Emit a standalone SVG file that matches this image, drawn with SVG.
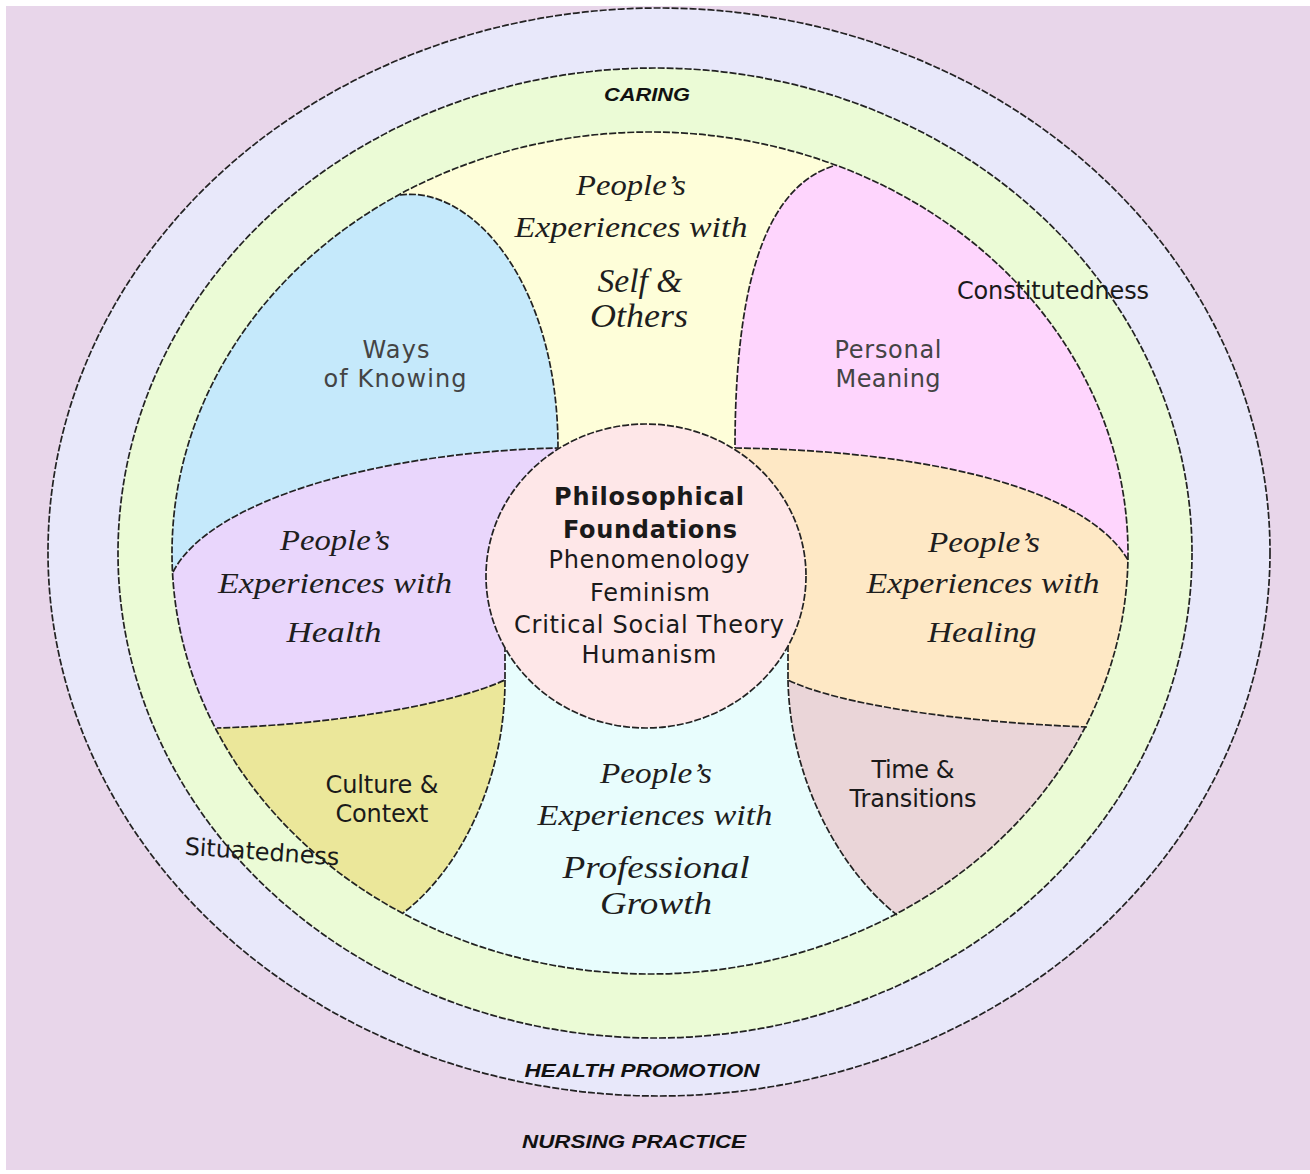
<svg xmlns="http://www.w3.org/2000/svg" width="1310" height="1174" viewBox="0 0 1310 1174">
<style>
.st{stroke:#222;stroke-width:1.7;stroke-dasharray:7 2}
.ln{fill:none;stroke:#222;stroke-width:1.7;stroke-dasharray:7 2}
.sc{font-family:"Liberation Serif","Times New Roman",serif;font-style:italic;fill:#1e1e1e;text-anchor:middle}
.sn{font-family:"DejaVu Sans",Verdana,sans-serif;font-size:24px;text-anchor:middle;fill:#1a1a1a}
.gr{fill:#444}
.ot{font-family:"Liberation Sans",Arial,sans-serif;font-weight:bold;font-style:italic;font-size:19px;text-anchor:middle;fill:#111}
</style>
<defs>
<clipPath id="inner"><ellipse cx="650" cy="553" rx="478" ry="421"/></clipPath>
</defs>
<rect x="0" y="0" width="1310" height="1174" fill="#ffffff"/>
<rect x="6" y="6" width="1304" height="1164" fill="#e8d6ea"/>

<g id="nursing-practice">
<ellipse cx="659" cy="552" rx="611" ry="544" fill="#e8e8fa" class="st"/>
<text class="ot" x="634" y="1148" textLength="224" lengthAdjust="spacingAndGlyphs">NURSING PRACTICE</text>
</g>
<g id="health-promotion">
<ellipse cx="655" cy="553" rx="537" ry="485" fill="#ebfbd6" class="st"/>
<text class="ot" x="642" y="1077" textLength="235" lengthAdjust="spacingAndGlyphs">HEALTH PROMOTION</text>
</g>
<g id="caring">
<text class="ot" x="647" y="101" textLength="86" lengthAdjust="spacingAndGlyphs">CARING</text>
</g>

<g clip-path="url(#inner)">
<g id="self-others">
<ellipse cx="650" cy="553" rx="478" ry="421" fill="#fefed9"/>
</g>
<g id="ways-of-knowing">
<path d="M400,100 L400,195 C470,185 558,280 558,448 L600,480 L558,448 C380,452 210,500 173,572 L100,572 L100,100 Z" fill="#c5e9fb"/>
</g>
<g id="personal-meaning">
<path d="M833,100 L833,166 C775,185 735,260 735,448 C900,450 1080,480 1128,560 L1200,560 L1200,100 Z" fill="#fed5fd"/>
</g>
<g id="health">
<path d="M100,572 L173,572 C210,500 380,452 558,448 L600,500 L505,600 L505,680 C450,705 330,725 217,728 L100,728 Z" fill="#e9d6fc"/>
</g>
<g id="healing">
<path d="M735,448 C900,450 1080,480 1128,560 L1200,560 L1200,727 L1087,727 C960,722 840,705 788,680 L788,600 L700,500 Z" fill="#fee8c5"/>
</g>
<g id="time-transitions">
<path d="M788,680 C840,705 960,722 1087,727 L1200,727 L1200,1000 L897,1000 L897,915 C840,870 790,780 788,680 Z" fill="#ead5d8"/>
</g>
<g id="culture-context">
<path d="M217,728 C330,725 450,705 505,680 C505,780 460,870 403,913 L403,1000 L100,1000 L100,728 Z" fill="#ebe79a"/>
</g>
<g id="professional-growth">
<path d="M505,600 L505,680 C505,780 460,870 403,913 L403,1000 L897,1000 L897,915 C840,870 790,780 788,680 L788,600 Z" fill="#e8fdfd"/>
</g>
</g>

<g id="connectors">
<path class="ln" d="M400,195 C470,185 558,280 558,448"/>
<path class="ln" d="M833,166 C775,185 735,260 735,448"/>
<path class="ln" d="M173,572 C210,500 380,452 558,448"/>
<path class="ln" d="M505,645 L505,680 C450,705 330,725 217,728"/>
<path class="ln" d="M735,448 C900,450 1080,480 1128,560"/>
<path class="ln" d="M788,645 L788,680 C840,705 960,722 1087,727"/>
<path class="ln" d="M788,680 C790,780 840,870 897,915"/>
<path class="ln" d="M505,680 C505,780 460,870 403,913"/>
<ellipse class="ln" cx="650" cy="553" rx="478" ry="421"/>
</g>

<g id="philosophical-foundations">
<ellipse cx="646" cy="576" rx="160" ry="152" fill="#fee7e8" class="st"/>
<text class="sn" x="649" y="505" font-weight="bold" font-size="25" textLength="190">Philosophical</text>
<text class="sn" x="650" y="538" font-weight="bold" font-size="25" textLength="174">Foundations</text>
<text class="sn" x="649" y="568" textLength="201">Phenomenology</text>
<text class="sn" x="650" y="601" textLength="120">Feminism</text>
<text class="sn" x="649" y="633" textLength="270">Critical Social Theory</text>
<text class="sn" x="649" y="663" textLength="135">Humanism</text>
</g>

<g id="labels">
<text class="sc" font-size="30" x="631" y="195" textLength="110" lengthAdjust="spacingAndGlyphs">People’s</text>
<text class="sc" font-size="30" x="631" y="237" textLength="233" lengthAdjust="spacingAndGlyphs">Experiences with</text>
<text class="sc" font-size="33" x="640" y="292" textLength="85" lengthAdjust="spacingAndGlyphs">Self &amp;</text>
<text class="sc" font-size="33" x="639" y="327" textLength="98" lengthAdjust="spacingAndGlyphs">Others</text>

<text class="sc" font-size="30" x="335" y="550" textLength="110" lengthAdjust="spacingAndGlyphs">People’s</text>
<text class="sc" font-size="30" x="335" y="593" textLength="234" lengthAdjust="spacingAndGlyphs">Experiences with</text>
<text class="sc" font-size="30" x="334" y="642" textLength="95" lengthAdjust="spacingAndGlyphs">Health</text>

<text class="sc" font-size="30" x="984" y="552" textLength="112" lengthAdjust="spacingAndGlyphs">People’s</text>
<text class="sc" font-size="30" x="983" y="593" textLength="233" lengthAdjust="spacingAndGlyphs">Experiences with</text>
<text class="sc" font-size="30" x="982" y="642" textLength="109" lengthAdjust="spacingAndGlyphs">Healing</text>

<text class="sc" font-size="30" x="656" y="783" textLength="112" lengthAdjust="spacingAndGlyphs">People’s</text>
<text class="sc" font-size="30" x="655" y="825" textLength="235" lengthAdjust="spacingAndGlyphs">Experiences with</text>
<text class="sc" font-size="31" x="656" y="878" textLength="187" lengthAdjust="spacingAndGlyphs">Professional</text>
<text class="sc" font-size="31" x="656" y="914" textLength="112" lengthAdjust="spacingAndGlyphs">Growth</text>

<text class="sn gr" x="396" y="358" textLength="67">Ways</text>
<text class="sn gr" x="395" y="387" textLength="143">of Knowing</text>
<text class="sn gr" x="888" y="358" textLength="107">Personal</text>
<text class="sn gr" x="888" y="387" textLength="105">Meaning</text>
<text class="sn" x="382" y="793" textLength="113">Culture &amp;</text>
<text class="sn" x="382" y="822" textLength="93">Context</text>
<text class="sn" x="913" y="778" textLength="83">Time &amp;</text>
<text class="sn" x="913" y="807" textLength="127">Transitions</text>
<text class="sn" x="1053" y="299" font-size="23" textLength="192">Constitutedness</text>
<text class="sn" x="262" y="860" font-size="23" textLength="155" transform="rotate(4 262 852)">Situatedness</text>
</g>
</svg>
